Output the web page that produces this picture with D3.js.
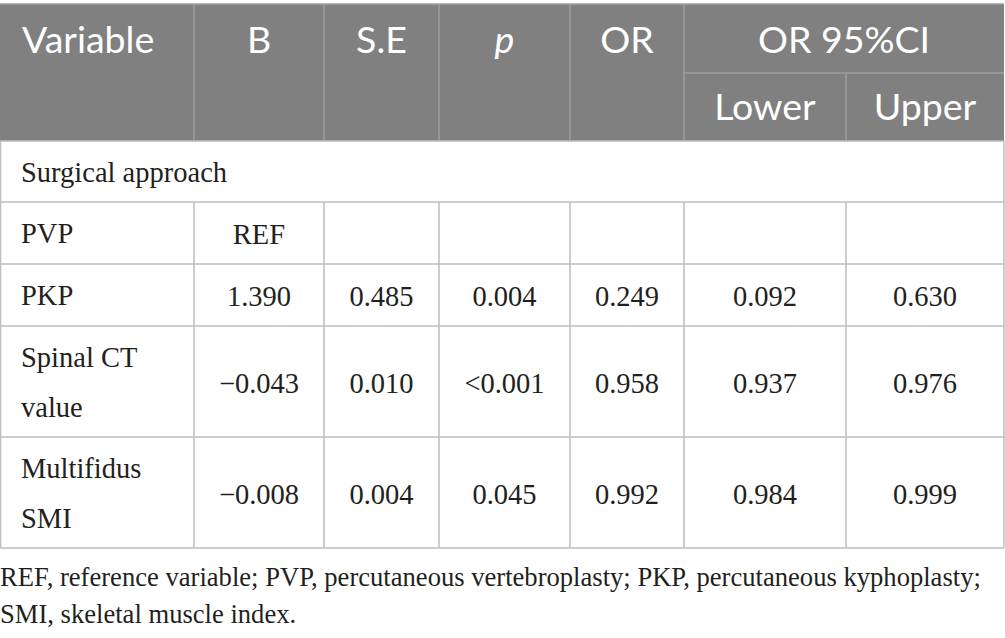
<!DOCTYPE html>
<html>
<head>
<meta charset="utf-8">
<script src="https://cdn.jsdelivr.net/npm/d3@7"></script>
<style>
  html, body { margin: 0; padding: 0; background: #fff; }
  svg { display: block; }
</style>
</head>
<body>
<script>
// table content
var headers = ["Variable", "B", "S.E", "p", "OR", "OR 95%CI"];
var subHeaders = ["Lower", "Upper"];
var groupLabel = "Surgical approach";
var variables = [["PVP"], ["PKP"], ["Spinal CT", "value"], ["Multifidus", "SMI"]];
var bValues = ["REF", "1.390", "\u22120.043", "\u22120.008"];
var seValues = ["", "0.485", "0.010", "0.004"];
var pValues = ["", "0.004", "<0.001", "0.045"];
var orValues = ["", "0.249", "0.958", "0.992"];
var lowerValues = ["", "0.092", "0.937", "0.984"];
var upperValues = ["", "0.630", "0.976", "0.999"];
var footnote = [
  "REF, reference variable; PVP, percutaneous vertebroplasty; PKP, percutaneous kyphoplasty;",
  "SMI, skeletal muscle index."
];

var width = 1005, height = 638;

// layout
var colEdges = [0.5, 194, 324, 439, 570, 684, 846, 1004];
var headTop = 4, headMid = 73, headBottom = 141;
var groupRowH = 61;
var rowHeights = [62, 62, 111, 111];
var lineGap = 50;

var serif = "'Liberation Serif', 'Times New Roman', serif";
var sans = "Lato, 'Open Sans', sans-serif";

var svg = d3.select("body").append("svg")
    .attr("width", width)
    .attr("height", height);

var colCenter = function(i) { return (colEdges[i] + colEdges[i + 1]) / 2; };

// rows y positions
var rowTops = [headBottom + groupRowH];
rowHeights.forEach(function(h, i) { rowTops.push(rowTops[i] + h); });
var tableBottom = rowTops[rowTops.length - 1];

// header background
svg.append("rect")
    .attr("x", 0).attr("y", headTop)
    .attr("width", colEdges[7]).attr("height", headBottom - headTop)
    .attr("fill", "#808080");

var hl = svg.append("g").attr("stroke", "#9e9e9e").attr("stroke-width", 1.5);
hl.append("line").attr("x1", 0).attr("x2", colEdges[7])
    .attr("y1", headTop).attr("y2", headTop);
colEdges.slice(1, 6).forEach(function(x) {
  hl.append("line").attr("x1", x).attr("x2", x).attr("y1", headTop).attr("y2", headBottom);
});
hl.append("line").attr("x1", colEdges[5]).attr("x2", colEdges[7])
    .attr("y1", headMid).attr("y2", headMid);
hl.append("line").attr("x1", colEdges[6]).attr("x2", colEdges[6])
    .attr("y1", headMid).attr("y2", headBottom);

// header text
var ht = svg.append("g")
    .attr("font-family", sans)
    .attr("font-size", 37.5)
    .attr("fill", "#fff");

headers.forEach(function(h, i) {
  var t = ht.append("text").attr("y", 53).text(h);
  if (i === 0) {
    t.attr("x", 22);
  } else if (i === 5) {
    t.attr("x", (colEdges[5] + colEdges[7]) / 2).attr("text-anchor", "middle");
  } else {
    t.attr("x", colCenter(i)).attr("text-anchor", "middle");
  }
  if (h === "p") t.attr("font-style", "italic");
});
subHeaders.forEach(function(h, i) {
  ht.append("text")
      .attr("x", colCenter(5 + i))
      .attr("y", 120)
      .attr("text-anchor", "middle")
      .text(h);
});

// body grid
var grid = svg.append("g").attr("stroke", "#bdbdbd").attr("stroke-width", 1.5).attr("fill", "none");
grid.append("line").attr("x1", 0).attr("x2", colEdges[7])
    .attr("y1", headBottom).attr("y2", headBottom);
rowTops.forEach(function(y) {
  grid.append("line").attr("x1", 0).attr("x2", colEdges[7]).attr("y1", y).attr("y2", y);
});
[colEdges[0], colEdges[7]].forEach(function(x) {
  grid.append("line").attr("x1", x).attr("x2", x).attr("y1", headBottom).attr("y2", tableBottom);
});
colEdges.slice(1, 7).forEach(function(x) {
  grid.append("line").attr("x1", x).attr("x2", x).attr("y1", rowTops[0]).attr("y2", tableBottom);
});

// body text
var bt = svg.append("g")
    .attr("font-family", serif)
    .attr("font-size", 28.5)
    .attr("fill", "#231f20");

bt.append("text")
    .attr("x", 21)
    .attr("y", headBottom + groupRowH / 2 + 10)
    .text(groupLabel);

var valueCols = [bValues, seValues, pValues, orValues, lowerValues, upperValues];

variables.forEach(function(lines, r) {
  var mid = rowTops[r] + rowHeights[r] / 2 + 10;
  lines.forEach(function(line, k) {
    bt.append("text")
        .attr("x", 21)
        .attr("y", mid + (k - (lines.length - 1) / 2) * lineGap)
        .text(line);
  });
  valueCols.forEach(function(col, c) {
    if (!col[r]) return;
    bt.append("text")
        .attr("x", colCenter(c + 1))
        .attr("y", mid + 1)
        .attr("text-anchor", "middle")
        .text(col[r]);
  });
});

// footnote
var fn = svg.append("g")
    .attr("font-family", serif)
    .attr("font-size", 26.6)
    .attr("fill", "#231f20");
footnote.forEach(function(line, i) {
  fn.append("text")
      .attr("x", 0)
      .attr("y", 586 + i * 37)
      .text(line);
});
</script>
</body>
</html>
